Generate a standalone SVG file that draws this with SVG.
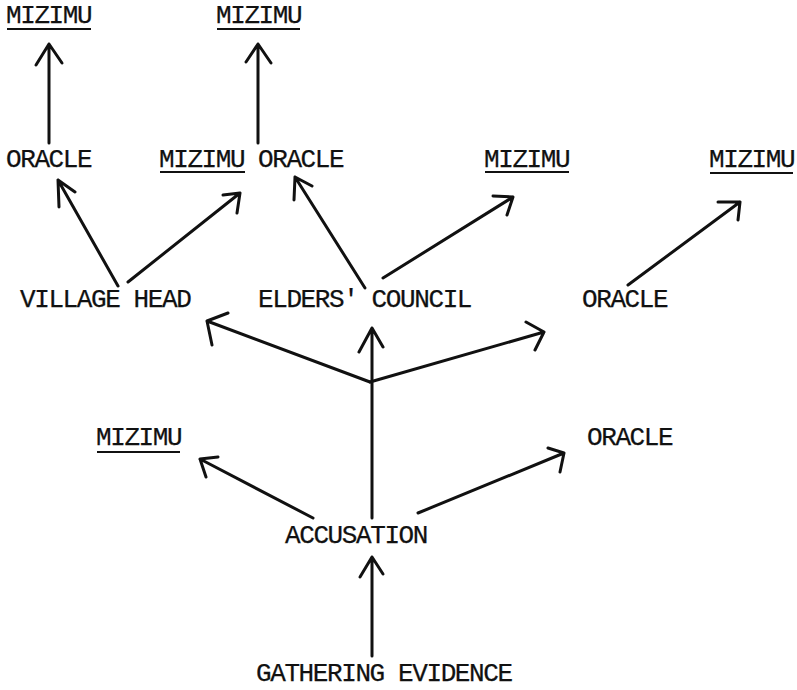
<svg xmlns="http://www.w3.org/2000/svg" width="797" height="690" viewBox="0 0 797 690">
<style>
text{font-family:"Liberation Mono","Courier New",monospace;font-size:26px;letter-spacing:-1.4px;fill:#111;stroke:#111;stroke-width:0.25px}
.ul{stroke:#111;stroke-width:2}
.c path{fill:none;stroke:#111;stroke-width:3;stroke-linecap:round;stroke-linejoin:round}
</style>
<rect width="797" height="690" fill="#fff"/>
<g id="mizimu-top1"><text x="6" y="23">MIZIMU</text><line class="ul" x1="7" y1="29" x2="91" y2="29"/></g>
<g id="mizimu-top2"><text x="216" y="23">MIZIMU</text><line class="ul" x1="217" y1="29" x2="300" y2="29"/></g>
<g id="oracle-l"><text x="6" y="167">ORACLE</text></g>
<g id="mizimu-m"><text x="159" y="167">MIZIMU</text><line class="ul" x1="160" y1="172" x2="245" y2="172"/></g>
<g id="oracle-m"><text x="258" y="167">ORACLE</text></g>
<g id="mizimu-r1"><text x="484" y="167">MIZIMU</text><line class="ul" x1="485" y1="172" x2="569" y2="172"/></g>
<g id="mizimu-r2"><text x="709" y="167">MIZIMU</text><line class="ul" x1="710" y1="173" x2="793" y2="173"/></g>
<g id="village-head"><text x="20" y="307">VILLAGE HEAD</text></g>
<g id="elders-council"><text x="258" y="307">ELDERS' COUNCIL</text></g>
<g id="oracle-r"><text x="582" y="307">ORACLE</text></g>
<g id="mizimu-low"><text x="96" y="445">MIZIMU</text><line class="ul" x1="97" y1="452" x2="180" y2="452"/></g>
<g id="oracle-low"><text x="587" y="445">ORACLE</text></g>
<g id="accusation"><text x="285" y="543">ACCUSATION</text></g>
<g id="gathering"><text x="256" y="681">GATHERING EVIDENCE</text></g>
<g id="connectors" class="c">
<path d="M49 143V44M36 65L49 44L62 63"/>
<path d="M258 143V44M246 62L258 44L271 63"/>
<path d="M118 286L58 180M59 207L58 180L75 192"/>
<path d="M128 282L240 193M223 195L240 193L237 213"/>
<path d="M365 288L295 177M294 200L295 177L312 186"/>
<path d="M383 278L513 197M493 196L513 197L507 215"/>
<path d="M628 285L740 202M718 202L740 202L738 220"/>
<path d="M370 382L207 321M228 313L207 321L212 345"/>
<path d="M370 382L544 332M526 322L544 332L535 350"/>
<path d="M372 518V328M359 352L372 328L383 347"/>
<path d="M313 518L200 459M218 457L200 459L206 477"/>
<path d="M418 513L564 453M548 448L564 453L560 472"/>
<path d="M372 656V557M360 577L372 557L383 574"/>
</g>
</svg>
